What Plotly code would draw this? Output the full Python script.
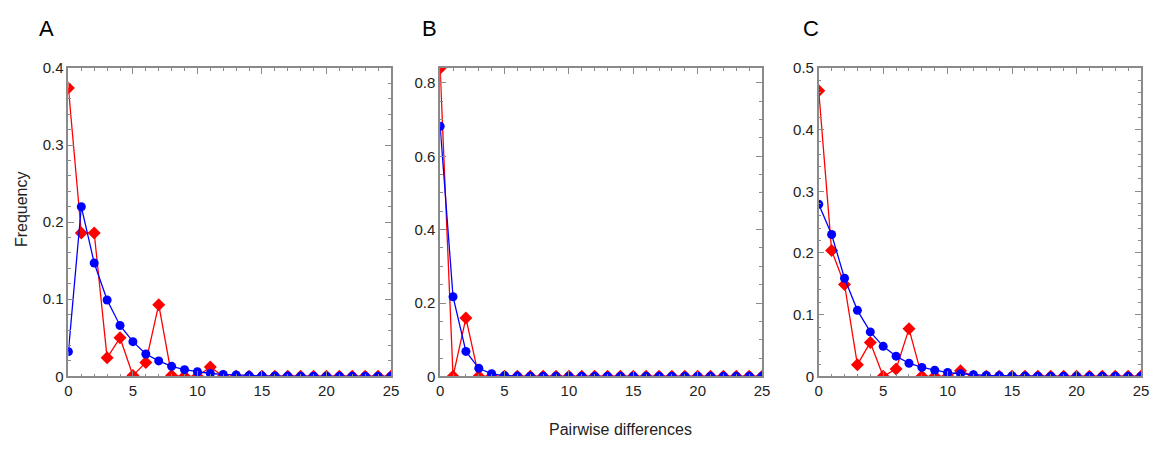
import plotly.graph_objects as go

# The page body keeps its default 8px margin; size the figure so the page is exactly 1158x450.
OFF = 8
W, H = 1158 - 2 * OFF, 450 - 2 * OFF

pairwise = list(range(26))

obs_A = [0.374, 0.186, 0.186, 0.024, 0.050, 0.001, 0.018, 0.093, 0.001, 0.0, 0.0, 0.012,
         0, 0, 0, 0, 0, 0, 0, 0, 0, 0, 0, 0, 0, 0]
exp_A = [0.032, 0.220, 0.147, 0.099, 0.066, 0.045, 0.029, 0.020, 0.013, 0.0087, 0.006, 0.0037,
         0.0025, 0.0017, 0.001, 0.0007, 0.0004, 0.0003, 0.0002, 0.0001, 0.0001, 0, 0, 0, 0, 0]

obs_B = [0.840, 0.0, 0.159, 0.0, 0, 0, 0, 0, 0, 0, 0, 0, 0, 0, 0, 0, 0, 0, 0, 0, 0, 0, 0, 0, 0, 0]
exp_B = [0.682, 0.217, 0.068, 0.022, 0.007, 0.002, 0.0007, 0.0002, 0.0001, 0, 0, 0, 0, 0, 0,
         0, 0, 0, 0, 0, 0, 0, 0, 0, 0, 0]

obs_C = [0.463, 0.204, 0.149, 0.019, 0.055, 0.0, 0.012, 0.077, 0.0, 0.0, 0.0, 0.009,
         0, 0, 0, 0, 0, 0, 0, 0, 0, 0, 0, 0, 0, 0]
exp_C = [0.279, 0.230, 0.159, 0.107, 0.072, 0.0487, 0.0327, 0.0213, 0.0145, 0.0098, 0.0062, 0.0042,
         0.0026, 0.0015, 0.001, 0.0006, 0.0004, 0.0002, 0.0001, 0.0001, 0, 0, 0, 0, 0, 0]

panel_labels = ["A", "B", "C"]
y_ranges = [[0, 0.4], [0, 0.841], [0, 0.5]]
y_dticks = [0.1, 0.2, 0.1]
y_minor = [0.02, 0.05, 0.02]

# plot-area boxes in page pixels
x_px = [(65, 391), (440.7, 766), (823.3, 1149)]
y_px = (61, 382)


def px_x(p):
    return (p - OFF) / W


def px_y(p):
    return 1 - (p - OFF) / H


FONT = "Liberation Sans, Arial, sans-serif"
AXC = "#8a8a8a"
TXT = "#222222"

fig = go.Figure()
obs = [obs_A, obs_B, obs_C]
exp = [exp_A, exp_B, exp_C]

for i in range(3):
    xa = "x" if i == 0 else f"x{i+1}"
    ya = "y" if i == 0 else f"y{i+1}"
    fig.add_trace(go.Scatter(x=pairwise, y=obs[i], mode="lines+markers", xaxis=xa, yaxis=ya,
                             line=dict(color="#ff0000", width=1.3),
                             marker=dict(symbol="diamond", size=10, color="#ff0000"),
                             showlegend=False))
    fig.add_trace(go.Scatter(x=pairwise, y=exp[i], mode="lines+markers", xaxis=xa, yaxis=ya,
                             line=dict(color="#0000ff", width=1.3),
                             marker=dict(symbol="circle", size=9, color="#0000ff"),
                             showlegend=False))

layout = dict(
    width=W, height=H, margin=dict(l=0, r=0, t=0, b=0),
    paper_bgcolor="white", plot_bgcolor="white",
    font=dict(family=FONT, size=15, color=TXT),
)

for i in range(3):
    xk = "xaxis" if i == 0 else f"xaxis{i+1}"
    yk = "yaxis" if i == 0 else f"yaxis{i+1}"
    ya = "y" if i == 0 else f"y{i+1}"
    xa = "x" if i == 0 else f"x{i+1}"
    l, r = x_px[i]
    layout[xk] = dict(
        domain=[px_x(l), px_x(r)], anchor=ya, range=[0, 25], dtick=5, tick0=0,
        showgrid=False, zeroline=False, showline=True, linecolor=AXC, linewidth=1.5,
        mirror="ticks", ticks="inside", ticklen=6, tickcolor=AXC, tickwidth=1.2,
        minor=dict(dtick=1, ticks="inside", ticklen=3, tickcolor=AXC, tickwidth=1, showgrid=False),
        tickfont=dict(size=15, color=TXT), fixedrange=True,
    )
    layout[yk] = dict(
        domain=[px_y(y_px[1]), px_y(y_px[0])], anchor=xa, range=y_ranges[i],
        dtick=y_dticks[i], tick0=0,
        showgrid=False, zeroline=False, showline=True, linecolor=AXC, linewidth=1.5,
        mirror="ticks", ticks="inside", ticklen=6, tickcolor=AXC, tickwidth=1.2,
        minor=dict(dtick=y_minor[i], ticks="inside", ticklen=3, tickcolor=AXC, tickwidth=1, showgrid=False),
        tickfont=dict(size=15, color=TXT), fixedrange=True,
    )

fig.update_layout(**layout)

label_x = [43, 430, 815]
annotations = []
for i in range(3):
    annotations.append(dict(text=panel_labels[i], x=px_x(label_x[i]), y=px_y(20), xref="paper", yref="paper",
                            showarrow=False, xanchor="center", yanchor="middle",
                            font=dict(family=FONT, size=22, color="black")))
annotations.append(dict(text="Frequency", x=px_x(17), y=px_y(208), xref="paper", yref="paper",
                        showarrow=False, textangle=-90, xanchor="center", yanchor="middle",
                        font=dict(family=FONT, size=16, color=TXT)))
annotations.append(dict(text="Pairwise differences", x=px_x(623), y=px_y(437), xref="paper", yref="paper",
                        showarrow=False, xanchor="center", yanchor="middle",
                        font=dict(family=FONT, size=16, color=TXT)))
fig.update_layout(annotations=annotations)

fig.write_html("out.html", config={"displayModeBar": False})
